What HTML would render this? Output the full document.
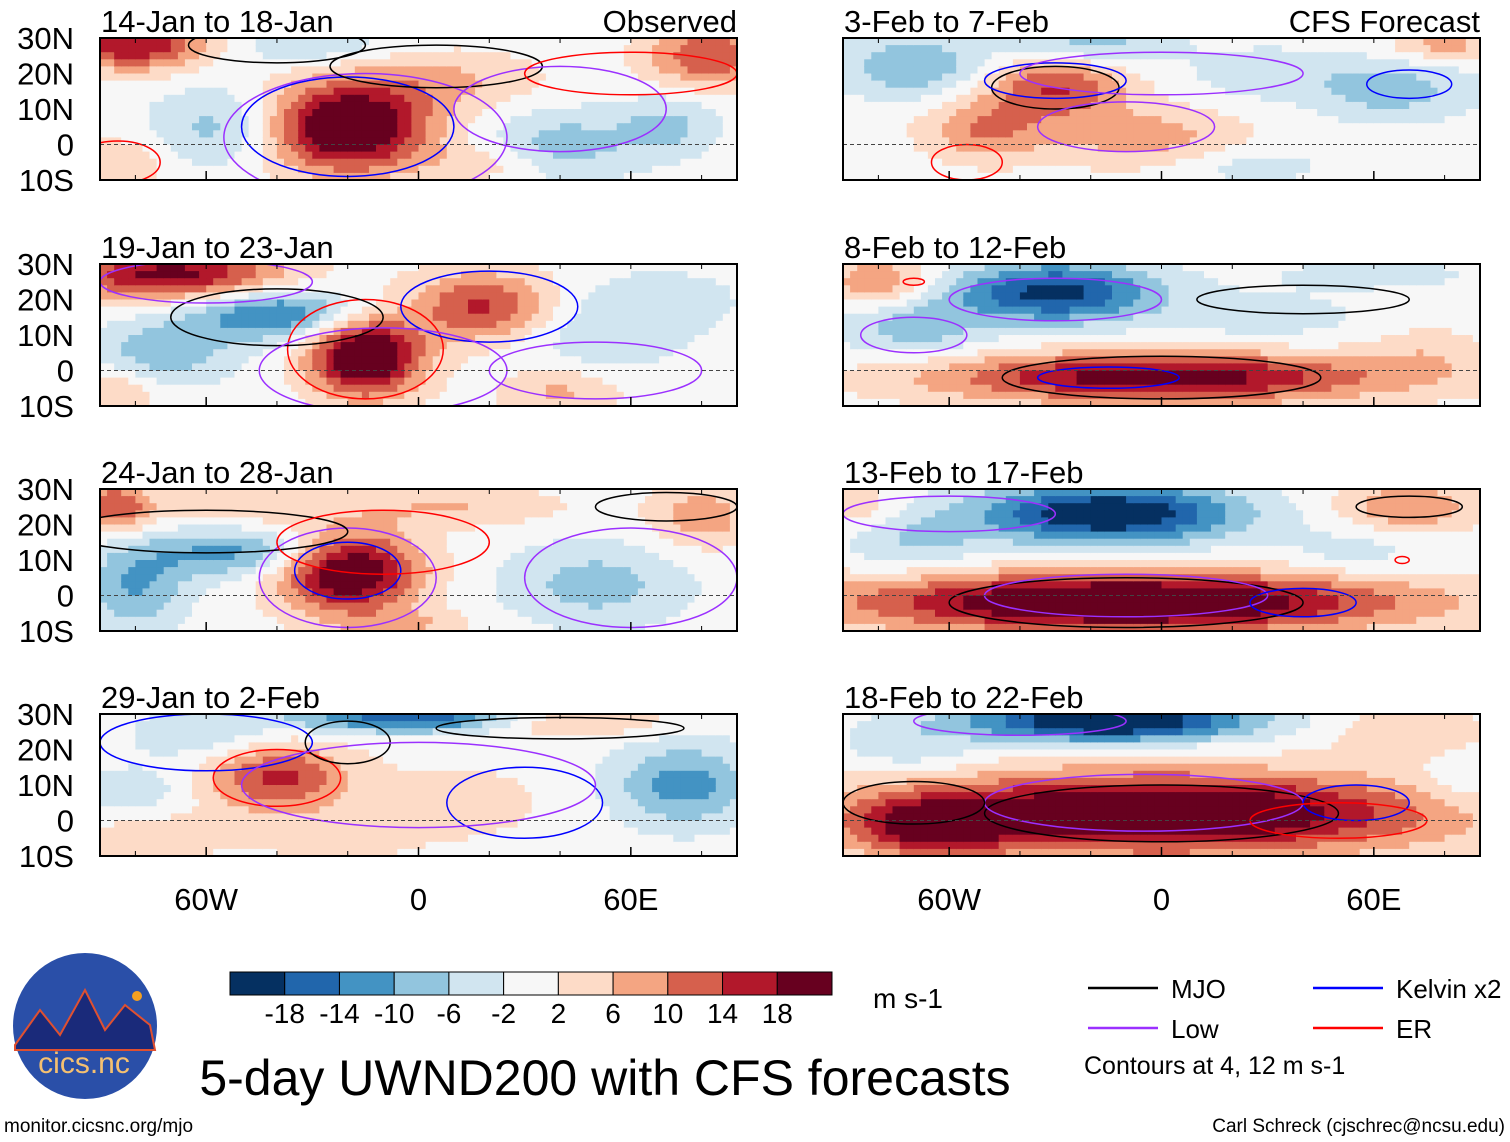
<!DOCTYPE html>
<html><head><meta charset="utf-8">
<style>
body{margin:0;background:#fff;width:1510px;height:1142px;overflow:hidden;font-family:"Liberation Sans",sans-serif}
svg{position:absolute;left:0;top:0}
</style></head>
<body>
<svg id="fig" width="1510" height="1142" xmlns="http://www.w3.org/2000/svg" font-family="Liberation Sans, sans-serif"></svg>
<script>
// ---- data ----
const panelTitles=["14-Jan to 18-Jan","19-Jan to 23-Jan","24-Jan to 28-Jan","29-Jan to 2-Feb","3-Feb to 7-Feb","8-Feb to 12-Feb","13-Feb to 17-Feb","18-Feb to 22-Feb"];
const latTicks=[30,20,10,0,-10];
const latLabels=["30N","20N","10N","0","10S"];
const lonTicks=[-60,0,60];
const lonLabels=["60W","0","60E"];
const levels=[-18,-14,-10,-6,-2,2,6,10,14,18];
const colors=["#053061","#2166ac","#4393c3","#92c5de","#d1e5f0","#f7f7f7","#fddbc7","#f4a582","#d6604d","#b2182b","#67001f"];
// anomaly centers per panel: [lon, lat, sigmaLon, sigmaLat, amplitude m/s]
const anomalies=[
 [[-20,5,16,9,26],[-80,28,14,5,18],[82,25,12,6,14],[-55,5,14,8,-8],[40,0,15,7,-8],[70,5,10,6,-7],[10,18,18,6,6],[-30,28,15,4,-6],[-85,-5,10,5,6],[20,-5,12,4,5]],
 [[-70,27,22,5,20],[-40,16,18,5,-15],[-72,5,14,6,-9],[-15,4,11,8,26],[18,18,14,7,15],[50,10,18,8,-5],[-85,-6,8,5,6],[40,-6,12,5,7],[70,20,15,6,-4]],
 [[-20,7,14,8,25],[-50,12,20,5,-12],[-80,2,10,8,-10],[-86,25,8,5,14],[50,3,18,8,-8],[10,25,22,4,6],[80,22,10,6,9],[-5,-8,14,3,6],[-50,25,15,4,5]],
 [[-40,12,14,7,15],[0,29,25,3,-18],[75,10,14,8,-12],[40,28,20,3,9],[-60,24,14,5,-6],[-75,-5,12,5,6],[10,5,20,8,4],[-80,8,10,5,-5],[-25,-5,15,4,5]],
 [[-30,16,14,6,14],[-50,4,12,6,10],[-70,22,14,6,-10],[-20,28,16,4,-8],[-5,2,20,6,8],[65,15,16,6,-8],[25,-6,16,4,-4],[80,28,10,3,8],[30,20,15,5,-5]],
 [[-30,22,20,6,-20],[0,-2,45,5,21],[-70,12,14,6,-8],[-80,25,10,5,10],[75,5,12,6,4],[30,15,20,5,-4],[60,27,20,3,-4]],
 [[-15,23,26,6,-23],[-10,-2,55,6,26],[70,25,14,5,10],[-70,15,14,6,-6],[55,12,14,5,-4],[-85,25,8,5,5]],
 [[-15,28,28,4,-25],[0,2,55,8,26],[-65,-2,15,6,14],[85,10,10,6,-4],[70,25,15,5,6],[-70,20,14,5,-5]]
];
// contours: [lon, lat, radiusLon, radiusLat, typeIndex]  0=MJO 1=Kelvin 2=Low 3=ER
const contourTypes=["#000000","#0000ff","#9b30ff","#ff0000"];
const contours=[
 [[-20,5,30,14,1],[-15,2,40,18,2],[-40,28,25,5,0],[5,22,30,6,0],[40,10,30,12,2],[-85,-5,12,6,3],[60,20,30,6,3]],
 [[-15,6,22,14,3],[20,18,25,10,1],[-40,15,30,8,0],[-10,0,35,12,2],[-60,25,30,6,2],[50,0,30,8,2]],
 [[-20,5,25,14,2],[-20,7,15,8,1],[-60,18,40,6,0],[-10,15,30,9,3],[60,5,30,14,2],[70,25,20,4,0]],
 [[-40,12,18,8,3],[-60,22,30,8,1],[-20,22,12,6,0],[30,5,22,10,1],[0,10,50,12,2],[40,26,35,3,0]],
 [[-30,16,18,6,0],[-30,18,20,5,1],[0,20,40,6,2],[-10,5,25,7,2],[-55,-5,10,5,3],[70,17,12,4,1]],
 [[-30,20,30,6,2],[0,-2,45,6,0],[-15,-2,20,3,1],[40,20,30,4,0],[-70,10,15,5,2],[-70,25,3,1,3]],
 [[-10,-2,50,7,0],[-10,0,40,6,2],[40,-2,15,4,1],[70,25,15,3,0],[-60,23,30,5,2],[68,10,2,1,3]],
 [[0,2,50,8,0],[-5,5,45,8,2],[55,5,15,5,1],[50,0,25,5,3],[-70,5,20,6,0],[-40,28,30,4,2]]
];
// ---- layout ----
const NS="http://www.w3.org/2000/svg";
const svg=document.getElementById('fig');
function mk(tag,attrs,parent){const e=document.createElementNS(NS,tag);for(const k in attrs)e.setAttribute(k,attrs[k]);(parent||svg).appendChild(e);return e;}
const colX=[100,843], rowY=[38,264,489,714], PW=637, PH=142;
const defs=mk('defs',{});
function colorFor(v){let i=0;while(i<levels.length&&v>levels[i])i++;return colors[i];}
for(let p=0;p<8;p++){
 const col=p<4?0:1,row=p%4,x0=colX[col],y0=rowY[row];
 const xs=lon=>x0+(lon+90)/180*PW, ys=lat=>y0+(30-lat)/40*PH;
 const cp=mk('clipPath',{id:'clip'+p},defs);
 mk('rect',{x:x0,y:y0,width:PW,height:PH},cp);
 const g=mk('g',{});
 
 
 const inner=mk('g',{'clip-path':'url(#clip'+p+')'},g);
 const step=2;
 for(let lon=-90;lon<90;lon+=step){for(let lat=30;lat>-10;lat-=step){
  const cl=lon+step/2,ca=lat-step/2;let v=0;
  for(const a of anomalies[p]){const dx=(cl-a[0])/a[2],dy=(ca-a[1])/a[3];v+=a[4]*Math.exp(-0.5*(dx*dx+dy*dy));}
  const r=mk('rect',{x:xs(lon).toFixed(1),y:ys(lat).toFixed(1),width:(step/180*PW+0.6).toFixed(1),height:(step/40*PH+0.6).toFixed(1),fill:colorFor(v)},inner);
  
  
 }}
 for(const c of contours[p]){
  const e=mk('ellipse',{cx:xs(c[0]),cy:ys(c[1]),rx:c[2]/180*PW,ry:c[3]/40*PH,fill:'none',stroke:contourTypes[c[4]],'stroke-width':1.5},inner);
  
  
 }
 mk('line',{x1:x0,x2:x0+PW,y1:ys(0),y2:ys(0),stroke:'#444','stroke-dasharray':'4,3','stroke-width':1},inner);
 mk('rect',{x:x0,y:y0,width:PW,height:PH,fill:'none',stroke:'#000','stroke-width':2},g);
 for(let lon=-80;lon<=80;lon+=20){mk('line',{x1:xs(lon),x2:xs(lon),y1:y0,y2:y0+5,stroke:'#000'},g);mk('line',{x1:xs(lon),x2:xs(lon),y1:y0+PH,y2:y0+PH-5,stroke:'#000'},g);}
 for(let k=0;k<lonTicks.length;k++){mk('line',{x1:xs(lonTicks[k]),x2:xs(lonTicks[k]),y1:y0+PH,y2:y0+PH-9,stroke:'#000','stroke-width':1.5},g);}
 const t=mk('text',{x:x0+1,y:y0-6,'font-size':31},g);t.textContent=panelTitles[p];
 
 if(row===0){const r=mk('text',{x:x0+PW,y:y0-6,'font-size':31,'text-anchor':'end'},g);r.textContent=col?'CFS Forecast':'Observed';
  }
 if(col===0){for(let k=0;k<latTicks.length;k++){const l=mk('text',{x:74,y:ys(latTicks[k])+11,'font-size':31,'text-anchor':'end'},g);l.textContent=latLabels[k];
  }}
 if(row===3){for(let k=0;k<lonTicks.length;k++){const l=mk('text',{x:xs(lonTicks[k]),y:910,'font-size':31,'text-anchor':'middle'},g);l.textContent=lonLabels[k];
  }}
}
// colorbar
const cb=mk('g',{});
const bw=602/colors.length;
colors.forEach((c,i)=>{mk('rect',{x:230+i*bw,y:972,width:bw,height:23,fill:c,stroke:'#000','stroke-width':1},cb);});
levels.forEach((lv,i)=>{const t=mk('text',{x:230+(i+1)*bw,y:1023,'font-size':28,'text-anchor':'middle'},cb);t.textContent=lv;});
const u=mk('text',{x:873,y:1008,'font-size':28},cb);u.textContent='m s-1';
// legend
const lg=mk('g',{});
[[1088,988,'MJO',0],[1313,988,'Kelvin x2',1],[1088,1028,'Low',2],[1313,1028,'ER',3]].forEach(e=>{
 mk('line',{x1:e[0],x2:e[0]+70,y1:e[1],y2:e[1],stroke:contourTypes[e[3]],'stroke-width':2.5},lg);
 const t=mk('text',{x:e[0]+83,y:e[1]+10,'font-size':26},lg);t.textContent=e[2];});
const ct=mk('text',{x:1084,y:1074,'font-size':25},lg);ct.textContent='Contours at 4, 12 m s-1';
// title etc
const ti=mk('text',{x:605,y:1095,'font-size':50,'text-anchor':'middle'});ti.textContent='5-day UWND200 with CFS forecasts';

const f1=mk('text',{x:4,y:1132,'font-size':19});f1.textContent='monitor.cicsnc.org/mjo';

const f2=mk('text',{x:1505,y:1132,'font-size':19,'text-anchor':'end'});f2.textContent='Carl Schreck (cjschrec@ncsu.edu)';

// logo
const lo=mk('g',{});
mk('ellipse',{cx:85,cy:1026,rx:72,ry:73,fill:'#2a4fa8'},lo);
mk('path',{d:'M15,1045 L40,1010 L60,1035 L85,990 L105,1030 L125,1005 L150,1025 L155,1050 L15,1050Z',fill:'#1a2a7a',stroke:'#e05030','stroke-width':2},lo);
mk('circle',{cx:137,cy:996,r:5,fill:'#f5a020'},lo);
const lt=mk('text',{x:84,y:1073,'font-size':30,'text-anchor':'middle',fill:'#f5c070'},lo);lt.textContent='cics.nc';
</script>
</body></html>
